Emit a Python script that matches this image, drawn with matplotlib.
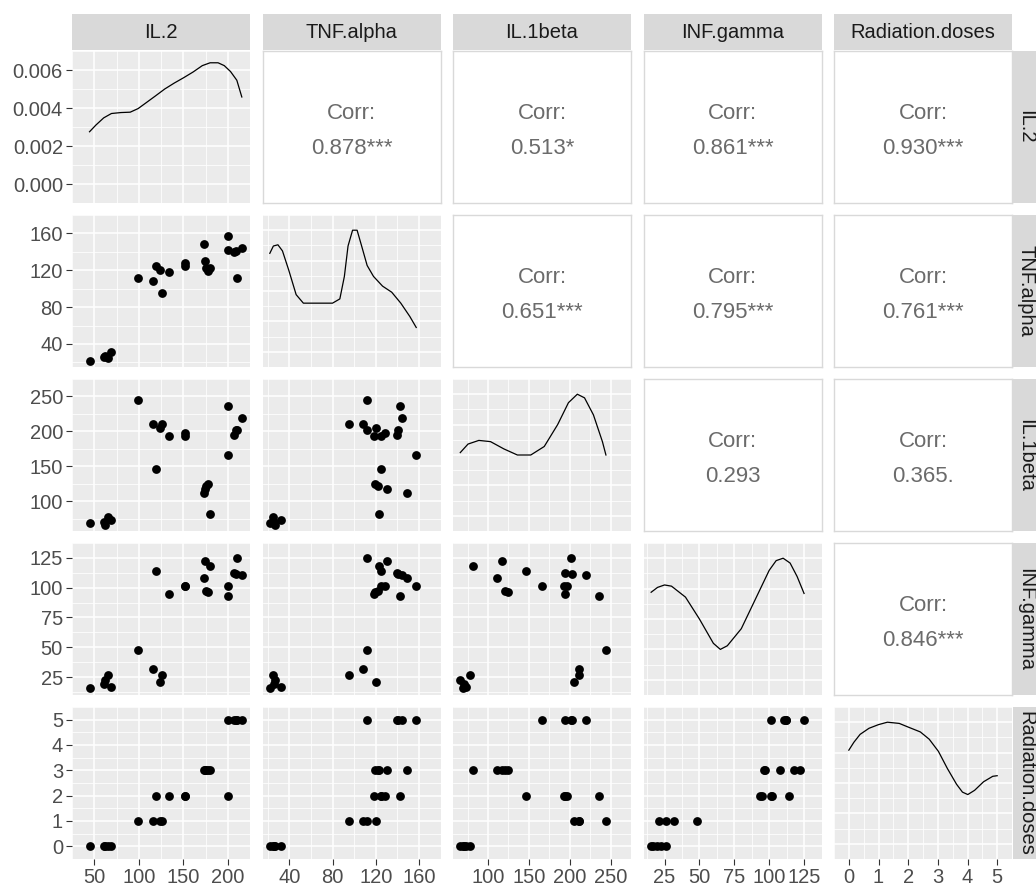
import numpy as np
import matplotlib.pyplot as plt

plt.rcParams['font.family'] = ['Liberation Sans', 'DejaVu Sans']

variables = ["IL.2", "TNF.alpha", "IL.1beta", "INF.gamma", "Radiation.doses"]

# samples grouped by radiation dose (0, 1, 2, 3, 5)
il2 = [44.7, 60.6, 62.4, 65.2, 69.3,
       98.6, 115.5, 124.2, 126.4,
       119.0, 134.5, 152.0, 152.0, 200.3,
       173.5, 174.0, 180.0, 176.0, 178.0,
       200.3, 207.0, 209.0, 210.5, 215.8]
tnf = [21.8, 25.5, 27.0, 25.0, 31.7,
       111.8, 108.5, 120.0, 95.3,
       125.0, 118.4, 128.3, 125.0, 142.4,
       149.0, 130.0, 123.0, 122.0, 119.5,
       157.5, 139.5, 140.5, 112.0, 144.5]
il1b = [69.0, 70.0, 66.0, 77.5, 73.0,
        244.3, 210.8, 204.8, 210.8,
        146.0, 193.6, 197.0, 192.8, 235.9,
        111.0, 117.0, 82.0, 121.0, 124.0,
        165.5, 194.5, 202.5, 202.0, 219.3]
infg = [15.4, 19.5, 22.2, 26.3, 16.8,
        48.0, 31.8, 21.0, 26.3,
        114.4, 94.5, 101.3, 101.8, 93.2,
        108.0, 122.0, 118.0, 97.0, 96.0,
        101.3, 112.3, 111.7, 125.0, 110.3]
dose = [0, 0, 0, 0, 0,
        1, 1, 1, 1,
        2, 2, 2, 2, 2,
        3, 3, 3, 3, 3,
        5, 5, 5, 5, 5]

# correlation labels, upper triangle, row by row
corr_labels = ["0.878***", "0.513*", "0.861***", "0.930***",
               "0.651***", "0.795***", "0.761***",
               "0.293", "0.365.",
               "0.846***"]

# diagonal density curves
il2_dx = [44.7, 51.8, 60.6, 69.3, 79.9, 90.4, 99.3, 108.1, 118.6, 129.2, 139.8,
          150.3, 160.9, 171.4, 180.2, 189.1, 196.1, 203.1, 210.2, 215.8]
il2_dy = [0.00275, 0.0031, 0.00348, 0.00371, 0.00376, 0.00378, 0.00397, 0.00427,
          0.00463, 0.0050, 0.00531, 0.00559, 0.00589, 0.00623, 0.00638, 0.00638,
          0.00623, 0.00592, 0.00546, 0.00458]
tnf_dx = [21.8, 25.1, 29.3, 33.5, 39.4, 46.2, 52.9, 63.0, 79.9, 86.7, 90.9, 94.3,
          98.5, 102.7, 106.9, 112.0, 117.9, 126.3, 134.8, 143.2, 151.6, 157.5]
tnf_dy = [0.81, 0.87, 0.88, 0.83, 0.67, 0.47, 0.40, 0.40, 0.40, 0.435, 0.62, 0.87,
          1.0, 1.0, 0.87, 0.71, 0.62, 0.54, 0.49, 0.40, 0.29, 0.20]
il1b_dx = [66.0, 75.5, 88.7, 103.0, 119.4, 135.9, 152.3, 168.8, 185.2, 198.4,
           209.3, 218.1, 229.0, 240.0, 244.3]
il1b_dy = [0.52, 0.59, 0.62, 0.61, 0.55, 0.50, 0.50, 0.57, 0.75, 0.93,
           1.0, 0.97, 0.83, 0.61, 0.50]
infg_dx = [15.4, 20, 25, 30, 40, 50, 60, 65, 70, 80, 90, 100, 105, 110, 115, 120, 125]
infg_dy = [0.72, 0.76, 0.78, 0.77, 0.68, 0.50, 0.30, 0.25, 0.28, 0.42, 0.66, 0.90,
           0.98, 1.0, 0.96, 0.85, 0.71]
dose_dx = [0, 0.17, 0.38, 0.68, 1.0, 1.3, 1.7, 2.0, 2.41, 2.71, 3.02, 3.32, 3.63,
           3.83, 4.01, 4.24, 4.54, 4.85, 5.0]
dose_dy = [0.77, 0.835, 0.90, 0.95, 0.98, 1.0, 0.99, 0.96, 0.92, 0.86, 0.76, 0.62,
           0.49, 0.425, 0.405, 0.44, 0.51, 0.555, 0.56]

ticks = [[50, 100, 150, 200], [40, 80, 120, 160], [100, 150, 200, 250],
         [25, 50, 75, 100, 125], [0, 1, 2, 3, 4, 5]]
dens_ticks = [0, 0.002, 0.004, 0.006]

data = [il2, tnf, il1b, infg, dose]
dens = [(il2_dx, il2_dy), (tnf_dx, tnf_dy), (il1b_dx, il1b_dy),
        (infg_dx, infg_dy), (dose_dx, dose_dy)]


def expand(v):
    lo, hi = min(v), max(v)
    r = hi - lo
    return lo - 0.05 * r, hi + 0.05 * r


def minors(t):
    step = t[1] - t[0]
    return np.arange(t[0] - step / 2, t[-1] + step, step)


W, H = 1036, 890
fig = plt.figure(figsize=(W / 100, H / 100), dpi=100)
lefts = [72, 262.5, 453, 643.5, 834]
tops = [51, 215, 379, 543, 707]
pw, ph = 178, 152
n = len(variables)
tick_col = '#4d4d4d'

k = 0
for i in range(n):
    for j in range(n):
        ax = fig.add_axes([lefts[j] / W, 1 - (tops[i] + ph) / H, pw / W, ph / H])
        for s in ax.spines.values():
            s.set_visible(False)
        if i < j:
            ax.set_facecolor('white')
            for s in ax.spines.values():
                s.set_visible(True)
                s.set_color('#d9d9d9')
                s.set_linewidth(1.0)
            ax.set_xticks([])
            ax.set_yticks([])
            ax.text(0.5, 0.59, "Corr:", ha='center', va='center', fontsize=16,
                    color='#6b6b6b', transform=ax.transAxes)
            ax.text(0.5, 0.36, corr_labels[k], ha='center', va='center', fontsize=16,
                    color='#6b6b6b', transform=ax.transAxes)
            k += 1
            continue

        ax.set_facecolor('#ebebeb')
        ax.set_axisbelow(True)
        ax.set_xlim(*expand(data[j]))
        ax.set_xticks(ticks[j])
        ax.set_xticks(minors(ticks[j]), minor=True)
        if i == j:
            dx, dy = dens[i]
            m = max(dy)
            ax.plot(dx, dy, color='black', lw=0.9)
            ax.set_ylim(-0.05 * m, 1.05 * m)
            if i == 0:
                yt = dens_ticks
            else:
                yt = [0, 0.25, 0.5, 0.75, 1.0]
            ax.set_yticks(yt)
            ax.set_yticks(minors(yt), minor=True)
        else:
            ax.scatter(data[j], data[i], s=40, color='black', linewidths=0, zorder=3)
            ax.set_ylim(*expand(data[i]))
            ax.set_yticks(ticks[i])
            ax.set_yticks(minors(ticks[i]), minor=True)
        ax.grid(which='major', color='white', lw=1.1)
        ax.grid(which='minor', color='white', lw=0.55)
        ax.tick_params(which='minor', length=0)
        ax.tick_params(which='major', length=4, width=0.8, color='#333333',
                       labelsize=14.5, labelcolor=tick_col, pad=2.5)
        if j == 0:
            if i == 0:
                ax.set_yticklabels(["%.3f" % t for t in dens_ticks])
        else:
            ax.tick_params(axis='y', length=0, labelleft=False)
        if i != n - 1:
            ax.tick_params(axis='x', length=0, labelbottom=False)

# top strips
for j in range(n):
    sa = fig.add_axes([lefts[j] / W, 1 - 50 / H, pw / W, 36 / H])
    sa.set_facecolor('#d9d9d9')
    sa.set_xticks([])
    sa.set_yticks([])
    for s in sa.spines.values():
        s.set_visible(False)
    sa.text(0.5, 0.48, variables[j], ha='center', va='center', fontsize=14.5,
            color='#1a1a1a', transform=sa.transAxes)

# right strips
for i in range(n):
    sa = fig.add_axes([1013 / W, 1 - (tops[i] + ph) / H, 36 / W, ph / H])
    sa.set_facecolor('#d9d9d9')
    sa.set_xticks([])
    sa.set_yticks([])
    for s in sa.spines.values():
        s.set_visible(False)
    sa.text(0.36, 0.5, variables[i], ha='center', va='center', fontsize=14.5,
            color='#1a1a1a', rotation=-90, transform=sa.transAxes)

fig.savefig('out.png', dpi=100, facecolor='white')
